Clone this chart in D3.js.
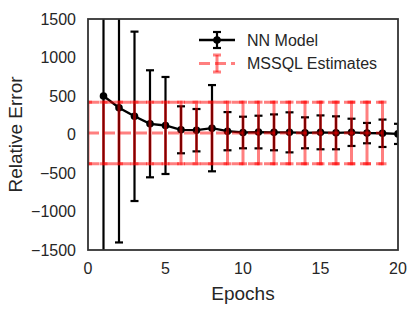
<!DOCTYPE html>
<html lang="en">
<head>
    <meta charset="UTF-8">
    <title>Relative Error</title>
    <script src="https://d3js.org/d3.v7.min.js"></script>
    <style>
        body { margin: 0; background: #fff; }
        text { font-family: "Liberation Sans", Arial, sans-serif; fill: #262626; }
    </style>
</head>
<body>
    <div id="graph"></div>
    <script>
        // NN model: epochs 1..20
        const nnEpochs = [1, 2, 3, 4, 5, 6, 7, 8, 9, 10, 11, 12, 13, 14, 15, 16, 17, 18, 19, 20]
        const nnMean = [500, 348, 236, 139, 117, 61, 56, 82, 43, 26, 32, 28, 28, 22, 28, 22, 28, 18, 16, 8]
        const nnErr = [2600, 1750, 1100, 695, 630, 305, 275, 560, 248, 205, 212, 233, 260, 201, 220, 214, 177, 132, 178, 131]

        // MSSQL estimates: epochs 0..19
        const sqlEpochs = [0, 1, 2, 3, 4, 5, 6, 7, 8, 9, 10, 11, 12, 13, 14, 15, 16, 17, 18, 19]
        const sqlMean = [20, 20, 20, 20, 20, 20, 20, 20, 20, 20, 20, 20, 20, 20, 20, 20, 20, 20, 20, 20]
        const sqlErr = [400, 400, 400, 400, 400, 400, 400, 400, 400, 400, 400, 400, 400, 400, 400, 400, 400, 400, 400, 400]

        const xTicks = [0, 5, 10, 15, 20]
        const yTicks = [-1500, -1000, -500, 0, 500, 1000, 1500]

        var width = 418, height = 314
        const margin = {left: 88, right: 20, top: 19, bottom: 64}

        var svg = d3.select("#graph").append("svg")
            .attr("width", width)
            .attr("height", height)

        var x = d3.scaleLinear().domain([0, 20]).range([margin.left, width - margin.right])
        var y = d3.scaleLinear().domain([-1500, 1500]).range([height - margin.bottom, margin.top])

        svg.append("clipPath").attr("id", "clip")
            .append("rect")
                .attr("x", x(0)).attr("y", y(1500))
                .attr("width", x(20) - x(0)).attr("height", y(-1500) - y(1500))

        var plot = svg.append("g").attr("clip-path", "url(#clip)")

        const nn = nnEpochs.map((e, i) => ({x: e, y: nnMean[i], err: nnErr[i]}))
        const sql = sqlEpochs.map((e, i) => ({x: e, y: sqlMean[i], err: sqlErr[i]}))

        // NN error bars
        var nnG = plot.append("g")
        nnG.selectAll("line.bar").data(nn).enter().append("line")
            .attr("x1", d => x(d.x)).attr("x2", d => x(d.x))
            .attr("y1", d => y(d.y - d.err)).attr("y2", d => y(d.y + d.err))
            .attr("stroke", "#000").attr("stroke-width", 2.2)
        nnG.selectAll("line.capTop").data(nn).enter().append("line")
            .attr("x1", d => x(d.x) - 4).attr("x2", d => x(d.x) + 4)
            .attr("y1", d => y(d.y + d.err)).attr("y2", d => y(d.y + d.err))
            .attr("stroke", "#000").attr("stroke-width", 2.2)
        nnG.selectAll("line.capBot").data(nn).enter().append("line")
            .attr("x1", d => x(d.x) - 4).attr("x2", d => x(d.x) + 4)
            .attr("y1", d => y(d.y - d.err)).attr("y2", d => y(d.y - d.err))
            .attr("stroke", "#000").attr("stroke-width", 2.2)
        nnG.append("path").datum(nn)
            .attr("d", d3.line().x(d => x(d.x)).y(d => y(d.y)))
            .attr("fill", "none").attr("stroke", "#000").attr("stroke-width", 2.3)
        nnG.selectAll("circle").data(nn).enter().append("circle")
            .attr("cx", d => x(d.x)).attr("cy", d => y(d.y)).attr("r", 3.8)
            .attr("fill", "#000")

        // MSSQL estimates, red with alpha on top (each mark its own alpha)
        var sqlG = plot.append("g")
        const dash = "11,5"
        const red = "red", alpha = 0.5
        ;[d => y(d.y + d.err), d => y(d.y - d.err), d => y(d.y)].forEach(fy => {
            sqlG.append("path").datum(sql)
                .attr("d", d3.line().x(d => x(d.x)).y(fy))
                .attr("fill", "none").attr("stroke", red).attr("stroke-opacity", alpha)
                .attr("stroke-width", 3).attr("stroke-dasharray", dash)
        })
        sqlG.selectAll("line.bar").data(sql).enter().append("line")
            .attr("x1", d => x(d.x)).attr("x2", d => x(d.x))
            .attr("y1", d => y(d.y - d.err) + 1.5).attr("y2", d => y(d.y + d.err) - 1.5)
            .attr("stroke", red).attr("stroke-opacity", alpha).attr("stroke-width", 3)
        sqlG.selectAll("rect.capTop").data(sql).enter().append("rect")
            .attr("x", d => x(d.x) - 4).attr("width", 8)
            .attr("y", d => y(d.y + d.err) - 1.5).attr("height", 3)
            .attr("fill", red).attr("fill-opacity", alpha)
        sqlG.selectAll("rect.capBot").data(sql).enter().append("rect")
            .attr("x", d => x(d.x) - 4).attr("width", 8)
            .attr("y", d => y(d.y - d.err) - 1.5).attr("height", 3)
            .attr("fill", red).attr("fill-opacity", alpha)

        // frame
        svg.append("rect")
            .attr("x", x(0)).attr("y", y(1500))
            .attr("width", x(20) - x(0)).attr("height", y(-1500) - y(1500))
            .attr("fill", "none").attr("stroke", "#333").attr("stroke-width", 1.8)

        // tick labels
        svg.selectAll("text.xtick").data(xTicks).enter().append("text")
            .attr("x", d => x(d)).attr("y", y(-1500) + 24)
            .attr("text-anchor", "middle").style("font-size", "16px")
            .text(d => d)
        svg.selectAll("text.ytick").data(yTicks).enter().append("text")
            .attr("x", x(0) - 12).attr("y", d => y(d)).attr("dy", "0.35em")
            .attr("text-anchor", "end").style("font-size", "16px")
            .text(d => d < 0 ? "\u2212" + Math.abs(d) : d)

        svg.append("text")
            .attr("x", (x(0) + x(20)) / 2).attr("y", 300)
            .attr("text-anchor", "middle").style("font-size", "19px")
            .text("Epochs")
        svg.append("text")
            .attr("transform", "translate(22," + y(0) + ") rotate(-90)")
            .attr("text-anchor", "middle").style("font-size", "19px")
            .text("Relative Error")

        // legend
        var lg = svg.append("g")
        const lx = 199, lw = 36
        // NN handle
        lg.append("line").attr("x1", lx).attr("x2", lx + lw).attr("y1", 40).attr("y2", 40)
            .attr("stroke", "#000").attr("stroke-width", 2.3)
        lg.append("line").attr("x1", lx + lw / 2).attr("x2", lx + lw / 2).attr("y1", 32).attr("y2", 48)
            .attr("stroke", "#000").attr("stroke-width", 2.2)
        lg.append("line").attr("x1", lx + lw / 2 - 4).attr("x2", lx + lw / 2 + 4).attr("y1", 32).attr("y2", 32)
            .attr("stroke", "#000").attr("stroke-width", 2.2)
        lg.append("line").attr("x1", lx + lw / 2 - 4).attr("x2", lx + lw / 2 + 4).attr("y1", 48).attr("y2", 48)
            .attr("stroke", "#000").attr("stroke-width", 2.2)
        lg.append("circle").attr("cx", lx + lw / 2).attr("cy", 40).attr("r", 3.8).attr("fill", "#000")
        lg.append("text").attr("x", 247).attr("y", 40).attr("dy", "0.35em")
            .style("font-size", "16px").text("NN Model")
        // MSSQL handle
        lg.append("line").attr("x1", lx).attr("x2", lx + lw).attr("y1", 63.5).attr("y2", 63.5)
            .attr("stroke", red).attr("stroke-opacity", alpha).attr("stroke-width", 3).attr("stroke-dasharray", dash)
        lg.append("line").attr("x1", lx + lw / 2).attr("x2", lx + lw / 2).attr("y1", 55).attr("y2", 72)
            .attr("stroke", red).attr("stroke-opacity", alpha).attr("stroke-width", 3)
        lg.append("rect").attr("x", lx + lw / 2 - 4).attr("width", 8).attr("y", 53.5).attr("height", 3)
            .attr("fill", red).attr("fill-opacity", alpha)
        lg.append("rect").attr("x", lx + lw / 2 - 4).attr("width", 8).attr("y", 70.5).attr("height", 3)
            .attr("fill", red).attr("fill-opacity", alpha)
        lg.append("text").attr("x", 247).attr("y", 63.5).attr("dy", "0.35em")
            .style("font-size", "16px").text("MSSQL Estimates")
    </script>
</body>
</html>
